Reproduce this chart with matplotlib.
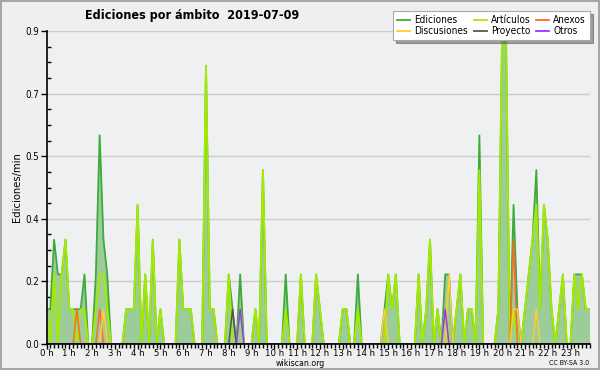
import numpy as np
import matplotlib
matplotlib.use("Agg")
import matplotlib.pyplot as plt
from matplotlib.lines import Line2D
from matplotlib.ticker import FixedLocator, MultipleLocator, FormatStrFormatter

# ---- data (edits per minute, 10-minute bins, 0h00 .. 23h50) ----
hours = list(range(24))
hour_labels = [f"{h} h" for h in hours]

ediciones = [0.1, 0.1, 0.3, 0.2, 0.2, 0.3, 0.1, 0.1, 0.1, 0.1, 0.2, 0.0,
             0.0, 0.2, 0.6, 0.3, 0.2, 0.0, 0.0, 0.0, 0.0, 0.1, 0.1, 0.1,
             0.4, 0.0, 0.2, 0.0, 0.3, 0.0, 0.1, 0.0, 0.0, 0.0, 0.0, 0.3,
             0.1, 0.1, 0.1, 0.0, 0.0, 0.0, 0.8, 0.1, 0.1, 0.0, 0.0, 0.0,
             0.2, 0.1, 0.0, 0.2, 0.0, 0.0, 0.0, 0.1, 0.0, 0.5, 0.0, 0.0,
             0.0, 0.0, 0.0, 0.2, 0.0, 0.0, 0.0, 0.2, 0.0, 0.0, 0.0, 0.2,
             0.1, 0.0, 0.0, 0.0, 0.0, 0.0, 0.1, 0.1, 0.0, 0.0, 0.2, 0.0,
             0.0, 0.0, 0.0, 0.0, 0.0, 0.1, 0.2, 0.1, 0.2, 0.0, 0.0, 0.0,
             0.0, 0.0, 0.2, 0.0, 0.1, 0.3, 0.0, 0.1, 0.0, 0.2, 0.2, 0.0,
             0.1, 0.2, 0.0, 0.1, 0.1, 0.0, 0.6, 0.0, 0.0, 0.0, 0.0, 0.1,
             0.9, 0.9, 0.0, 0.4, 0.1, 0.0, 0.1, 0.2, 0.3, 0.5, 0.1, 0.4,
             0.3, 0.1, 0.0, 0.1, 0.2, 0.0, 0.0, 0.2, 0.2, 0.2, 0.1, 0.1]

articulos = [0.1, 0.0, 0.2, 0.0, 0.2, 0.3, 0.1, 0.1, 0.0, 0.1, 0.1, 0.0,
             0.0, 0.1, 0.2, 0.2, 0.1, 0.0, 0.0, 0.0, 0.0, 0.1, 0.1, 0.1,
             0.4, 0.0, 0.2, 0.0, 0.3, 0.0, 0.1, 0.0, 0.0, 0.0, 0.0, 0.3,
             0.1, 0.1, 0.1, 0.0, 0.0, 0.0, 0.8, 0.1, 0.1, 0.0, 0.0, 0.0,
             0.2, 0.0, 0.0, 0.1, 0.0, 0.0, 0.0, 0.1, 0.0, 0.5, 0.0, 0.0,
             0.0, 0.0, 0.0, 0.1, 0.0, 0.0, 0.0, 0.2, 0.0, 0.0, 0.0, 0.2,
             0.1, 0.0, 0.0, 0.0, 0.0, 0.0, 0.1, 0.1, 0.0, 0.0, 0.1, 0.0,
             0.0, 0.0, 0.0, 0.0, 0.0, 0.0, 0.2, 0.1, 0.2, 0.0, 0.0, 0.0,
             0.0, 0.0, 0.2, 0.0, 0.1, 0.3, 0.0, 0.1, 0.0, 0.1, 0.0, 0.0,
             0.1, 0.2, 0.0, 0.1, 0.1, 0.0, 0.5, 0.0, 0.0, 0.0, 0.0, 0.1,
             0.9, 0.9, 0.0, 0.1, 0.0, 0.0, 0.1, 0.2, 0.3, 0.4, 0.1, 0.4,
             0.3, 0.1, 0.0, 0.1, 0.2, 0.0, 0.0, 0.2, 0.1, 0.2, 0.1, 0.1]

anexos = [0.0] * 144
for i, v in [(8, 0.1), (14, 0.1), (123, 0.3)]:
    anexos[i] = v
discusiones = [0.0] * 144
for i, v in [(15, 0.1), (89, 0.1), (106, 0.2), (123, 0.1), (124, 0.1), (129, 0.1)]:
    discusiones[i] = v
proyecto = [0.0] * 144
for i, v in [(49, 0.1)]:
    proyecto[i] = v
otros = [0.0] * 144
for i, v in [(51, 0.1), (105, 0.1)]:
    otros[i] = v

y_max = 0.9

# ---- styling ----
plt.rcParams["font.family"] = ["DejaVu Sans"]
plt.rcParams["font.stretch"] = "condensed"

C_ED = "#3cab3c"
C_FILL = "#9dcc9b"
C_ART = "#a4ea00"
C_ANE = "#ff6a2a"
C_DIS = "#ffcc33"
C_PRO = "#555555"
C_OTR = "#9a33ff"

fig = plt.figure(figsize=(6, 3.7), dpi=100, facecolor="#efefef")
ax = fig.add_axes([46.5 / 600, 26 / 370, 543 / 600, 313 / 370])
ax.set_facecolor("#eff0f2")

x = np.arange(len(ediciones))
ax.fill_between(x, 0, ediciones, color=C_FILL, lw=0, zorder=2)
ax.plot(x, ediciones, color=C_ED, lw=1.3, zorder=3)
ax.plot(x, articulos, color=C_ART, lw=1.4, zorder=4)
ax.plot(x, anexos, color=C_ANE, lw=1.1, zorder=5)
ax.plot(x, discusiones, color=C_DIS, lw=1.1, zorder=5)
ax.plot(x, proyecto, color=C_PRO, lw=1.1, zorder=6)
ax.plot(x, otros, color=C_OTR, lw=1.1, zorder=6)

ax.set_xlim(0, len(ediciones) - 1)
ax.set_ylim(0, y_max)

yt = np.linspace(0, y_max, 6)
ax.yaxis.set_major_locator(FixedLocator(yt))
ax.yaxis.set_major_formatter(FormatStrFormatter("%.1f"))
ax.yaxis.set_minor_locator(FixedLocator(np.arange(0, y_max + 1e-9, y_max / 20)))
ax.grid(axis="y", which="major", color="#cccccc", lw=1, zorder=1)

ax.xaxis.set_major_locator(FixedLocator([h * 6 for h in hours]))
ax.set_xticklabels(hour_labels)
ax.xaxis.set_minor_locator(MultipleLocator(1))

ax.tick_params(axis="y", which="major", direction="out", length=4, width=1,
               labelsize=7, pad=1, colors="black")
ax.tick_params(axis="y", which="minor", direction="in", length=3, width=1)
ax.tick_params(axis="x", which="major", direction="out", length=3.5, width=1,
               labelsize=6.8, pad=0)
ax.tick_params(axis="x", which="minor", direction="out", length=3, width=1)

for s in ["top", "right"]:
    ax.spines[s].set_visible(False)
for s in ["left", "bottom"]:
    ax.spines[s].set_linewidth(1.2)
    ax.spines[s].set_zorder(10)

ax.set_ylabel("Ediciones/min", fontsize=8, labelpad=3)

fig.text(85 / 600, 1 - 16 / 370, "Ediciones por ámbito  2019-07-09",
         fontsize=9, fontweight="bold", va="center", ha="left")
fig.text(300 / 600, 1 - 364 / 370, "wikiscan.org", fontsize=6.3, ha="center", va="center")
fig.text(589 / 600, 1 - 363 / 370, "CC BY-SA 3.0", fontsize=5, ha="right", va="center")

handles = [Line2D([], [], color=C_ED, lw=1.3), Line2D([], [], color=C_DIS, lw=1.3),
           Line2D([], [], color=C_ART, lw=1.3), Line2D([], [], color=C_PRO, lw=1.3),
           Line2D([], [], color=C_ANE, lw=1.3), Line2D([], [], color=C_OTR, lw=1.3)]
labels = ["Ediciones", "Discusiones", "Artículos", "Proyecto", "Anexos", "Otros"]
leg = fig.legend(handles, labels, ncol=3, loc="upper right",
                 bbox_to_anchor=(590 / 600, 1 - 11 / 370), fontsize=7.2,
                 frameon=True, fancybox=False, shadow=True, borderpad=0.4,
                 labelspacing=0.1, handlelength=1.3, handletextpad=0.4,
                 columnspacing=0.6, borderaxespad=0)
leg.get_frame().set_edgecolor("#aaaaaa")
leg.get_frame().set_linewidth(0.8)

# outer border
fig.patches.append(plt.Rectangle((0.001, 0.002), 0.997, 0.996, transform=fig.transFigure,
                                 fill=False, edgecolor="#999999", lw=1.2))

fig.savefig("out.png", dpi=100, facecolor=fig.get_facecolor())
